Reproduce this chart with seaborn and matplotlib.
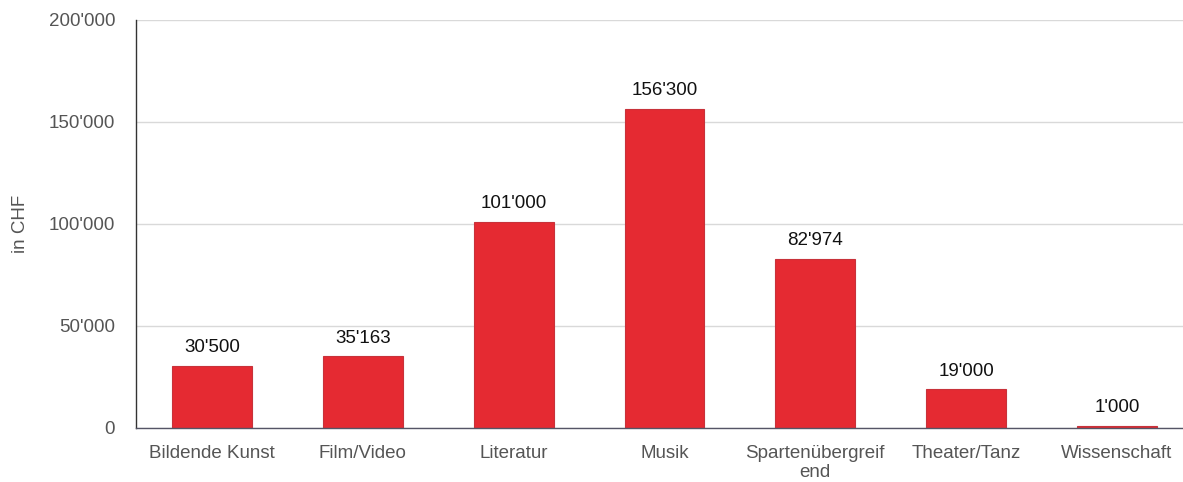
import matplotlib
matplotlib.use("Agg")
import matplotlib.pyplot as plt
import seaborn as sns
import pandas as pd

categories = ["Bildende Kunst", "Film/Video", "Literatur", "Musik",
              "Spartenübergreif\nend", "Theater/Tanz", "Wissenschaft"]
values = [30500, 35163, 101000, 156300, 82974, 19000, 1000]
yticks = [0, 50000, 100000, 150000, 200000]

def fmt(v):
    return f"{v:,}".replace(",", "'")

sns.set_theme(style="white")
plt.rcParams["font.family"] = ["Liberation Sans", "DejaVu Sans"]

df = pd.DataFrame({"cat": categories, "val": values})
fig = plt.figure(figsize=(11.83, 4.82), dpi=100)
ax = fig.add_axes([136/1183, 1 - 428/482, (1183-136)/1183, (428-20)/482])
sns.barplot(data=df, x="cat", y="val", color="#E52A32", width=0.53,
            edgecolor="#C8323A", linewidth=0.8, saturation=1, ax=ax)

ax.set_ylim(0, 200000)
ax.set_xlim(-0.504, 6.438)
ax.set_yticks(yticks)
ax.set_yticklabels([fmt(v) for v in yticks])
ax.yaxis.grid(True, color="#D9D9D9", linewidth=1)
ax.set_axisbelow(True)
ax.tick_params(axis="y", length=0, pad=15, labelsize=13.5, labelcolor="#555555")
ax.tick_params(axis="x", length=0, pad=12, labelsize=13.5, labelcolor="#555555")
for lab in ax.get_xticklabels():
    lab.set_linespacing(1.2)
ax.set_xlabel("")
ax.set_ylabel("in CHF", fontsize=13.5, color="#555555", labelpad=14)
for s in ["top", "right"]:
    ax.spines[s].set_visible(False)
ax.spines["left"].set_color("#333333")
ax.spines["left"].set_linewidth(1)
ax.spines["bottom"].set_color("#555566")
ax.spines["bottom"].set_linewidth(1)

for i, v in enumerate(values):
    ax.annotate(fmt(v), (i, v), xytext=(0, 7), textcoords="offset points",
                ha="center", va="bottom", fontsize=13.5, color="#111111")

fig.savefig("out.png", dpi=100)
